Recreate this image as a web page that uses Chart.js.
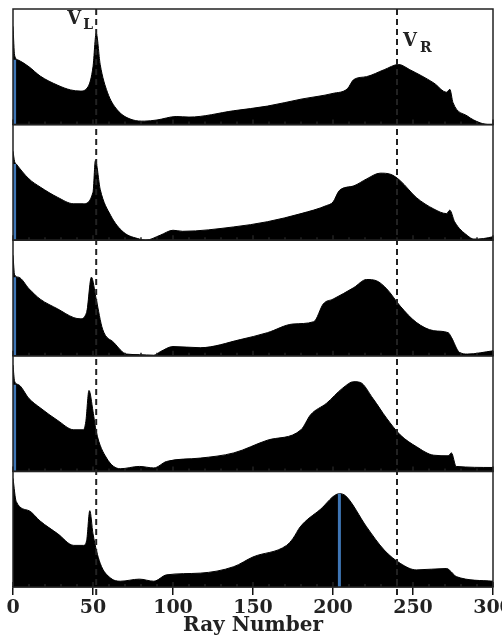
<!DOCTYPE html>
<html>
<head>
<meta charset="utf-8">
<script src="https://cdn.jsdelivr.net/npm/chart.js@4.4.0/dist/chart.umd.min.js"></script>
<style>
  html, body { margin: 0; padding: 0; background: #fff; overflow: hidden; }
  #wrap { position: relative; width: 520px; height: 638px; }
</style>
</head>
<body>
<div id="wrap"><canvas id="chart"></canvas></div>
<script>
// ray number positions and relative counts, one pair per panel (top to bottom)
const rays1 = [0, 1, 3, 10, 17, 28, 36, 42, 47, 50, 52, 54.5, 59, 65, 75, 82, 90, 102, 110, 138, 159, 180, 200, 209, 213, 221, 232, 241, 248, 263, 271, 273, 275, 284, 292, 298, 300];
const counts1 = [85, 60, 56, 50, 42, 34, 30, 29, 33, 50, 79, 52, 28, 13, 4, 3, 4, 7, 6.5, 12, 16, 22, 27, 31, 39, 41.5, 47.5, 52, 47.5, 36, 28, 30.5, 19, 7.4, 1.5, 0, 0];

const rays2 = [0, 1, 2, 10, 17, 28, 38, 44, 50, 51.5, 54.5, 61, 69, 79, 83, 92, 100, 106, 138, 159, 180, 196, 200, 204, 213, 221, 229.5, 236, 242, 252, 263, 271, 273, 276, 284, 288, 294, 300];
const counts2 = [77, 68, 66, 53, 46, 37, 31.5, 31.5, 41.5, 69, 44, 21.5, 7, 1, 0, 4.3, 8.6, 7.7, 11.5, 16, 23, 30, 33, 43, 47, 53, 58, 57, 51.5, 37, 27, 23, 26, 16, 4, 1, 1.4, 3];

const rays3 = [0, 1, 3.5, 10, 17, 28, 38, 42, 46, 49, 52, 56, 63, 71, 79, 88, 92, 100, 117, 142, 159, 175, 188, 194, 200, 213, 221, 227, 233.5, 242, 252, 263, 272, 274, 279, 284, 300];
const counts3 = [87, 70, 68, 58, 49, 40.5, 33, 32, 37.5, 68, 49, 23, 11.5, 1.5, 1, 0.5, 3.5, 8, 7, 14, 20, 27.5, 29.5, 45, 49, 59, 66, 65, 58, 43, 29, 21.7, 20, 16, 3, 1.5, 4.3];

const rays4 = [0, 1, 3.5, 10, 17, 28, 38, 44, 45.5, 47.5, 50, 52, 58.5, 67, 79, 88, 96, 117, 138, 159, 180, 186, 196, 206, 213, 217, 225, 233.5, 242, 252, 263, 272, 274, 277, 300];
const counts4 = [92, 78, 75, 63, 55, 44, 36, 36, 43, 70, 52, 34.5, 11.5, 2.3, 4.3, 3, 8.6, 11.5, 16, 27, 36, 49, 59, 72, 77.6, 77, 63, 46, 31.6, 21.5, 14, 13.5, 16, 4.3, 3.4];

const rays5 = [0, 2, 10, 17, 28, 38, 44, 46, 48, 50, 54.5, 61, 67, 79, 88, 96, 117, 138, 150, 171, 175, 179.5, 192, 204, 208, 221, 232, 242, 252, 271, 274, 277, 300];
const counts5 = [94, 74, 66, 57, 46, 36, 36, 40, 66, 46, 20.5, 7.7, 5, 6.8, 5, 10.5, 12, 17.6, 26, 36, 42, 52, 67, 80.7, 78.7, 52, 32, 20.5, 14.8, 16, 13, 9, 5];

// highlighted (blue) ray in each panel
const highlightRay = [1, 1, 1, 1, 204];
const highlightCount = [56, 66, 68, 75, 80.7];

const xTickValues = [0, 50, 100, 150, 200, 250, 300];
const vLeftRay = 52;
const vRightRay = 240;

const panelRays = [rays1, rays2, rays3, rays4, rays5];
const panelCounts = [counts1, counts2, counts3, counts4, counts5];
const panelIds = ['p1', 'p2', 'p3', 'p4', 'p5'];

const datasets = [];
panelIds.forEach((id, i) => {
  datasets.push({
    data: panelRays[i].map((r, j) => ({ x: r, y: panelCounts[i][j] })),
    yAxisID: id,
    borderColor: '#000',
    backgroundColor: '#000',
    borderWidth: 1,
    pointRadius: 0,
    cubicInterpolationMode: 'monotone',
    fill: 'origin',
    order: 1
  });
  datasets.push({
    data: [{ x: highlightRay[i], y: 0 }, { x: highlightRay[i], y: highlightCount[i] }],
    yAxisID: id,
    borderColor: '#3f76b5',
    borderWidth: 3,
    pointRadius: 0,
    fill: false,
    order: 0
  });
});

const scales = {
  x: {
    type: 'linear', min: 0, max: 300,
    afterBuildTicks: s => { s.ticks = xTickValues.map(v => ({ value: v })); },
    afterFit: s => { s.height = 51; },
    grid: { drawOnChartArea: false, drawTicks: true, tickLength: 8, color: '#111', lineWidth: 1.5 },
    border: { display: true, color: '#111', width: 1.5 },
    ticks: { color: '#222', padding: 2, font: { family: 'DejaVu Serif', weight: 'bold', size: 19 } },
    title: { display: true, text: 'Ray Number', color: '#222', padding: { top: 0, bottom: 0 },
             font: { family: 'DejaVu Serif', weight: 'bold', size: 20 } }
  }
};
// stacked axes are laid out bottom-up, so add the bottom panel first
panelIds.slice().reverse().forEach(id => {
  scales[id] = {
    type: 'linear', min: 0, max: 100, position: 'left',
    stack: 'panels', stackWeight: 1, offset: false,
    ticks: { display: false }, grid: { display: false }, border: { display: false },
    afterFit: s => { s.width = 0; }
  };
});

const decorations = {
  id: 'decorations',
  afterDatasetsDraw(chart) {
    const { ctx, chartArea } = chart;
    const x = chart.scales.x;
    ctx.save();
    ctx.strokeStyle = '#222';
    ctx.lineWidth = 1.5;
    let top = Infinity, bottom = -Infinity;
    panelIds.forEach(id => {
      const s = chart.scales[id];
      top = Math.min(top, s.top); bottom = Math.max(bottom, s.bottom);
      ctx.strokeRect(chartArea.left, s.top, chartArea.right - chartArea.left, s.bottom - s.top);
      for (let v = 0; v <= 300; v += 10) {
        const px = x.getPixelForValue(v);
        const len = v % 50 === 0 ? 5 : 3;
        ctx.beginPath(); ctx.moveTo(px, s.bottom); ctx.lineTo(px, s.bottom - len); ctx.stroke();
      }
    });
    ctx.setLineDash([6, 4]);
    ctx.lineWidth = 2;
    [vLeftRay, vRightRay].forEach(v => {
      const px = x.getPixelForValue(v);
      ctx.beginPath(); ctx.moveTo(px, top); ctx.lineTo(px, bottom + 8); ctx.stroke();
    });
    ctx.setLineDash([]);
    ctx.fillStyle = '#222';
    const xl = x.getPixelForValue(vLeftRay);
    const xr = x.getPixelForValue(vRightRay);
    ctx.font = 'bold 18px "DejaVu Serif"';
    ctx.textBaseline = 'alphabetic';
    ctx.fillText('V', xl - 29, top + 15);
    ctx.fillText('V', xr + 6, top + 37);
    ctx.font = 'bold 14px "DejaVu Serif"';
    ctx.fillText('L', xl - 13, top + 20);
    ctx.fillText('R', xr + 23, top + 43);
    ctx.restore();
  }
};

new Chart(document.getElementById('chart'), {
  type: 'line',
  data: { datasets },
  options: {
    responsive: true,
    maintainAspectRatio: false,
    animation: false,
    layout: { padding: { top: 9, left: 13, right: 27, bottom: 0 } },
    plugins: { legend: { display: false }, tooltip: { enabled: false } },
    scales
  },
  plugins: [decorations]
});
</script>
</body>
</html>
